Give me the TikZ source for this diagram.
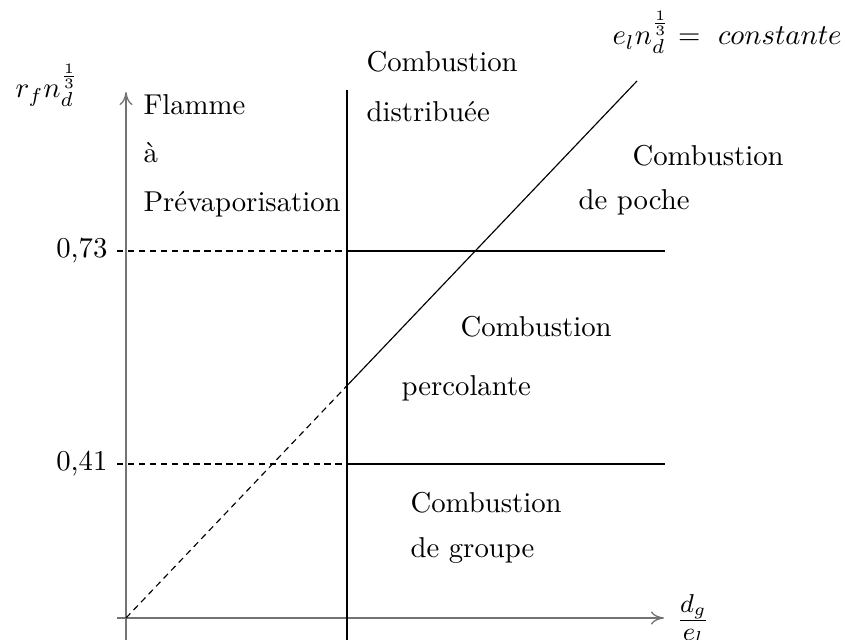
\documentclass[tikz,border=0pt]{standalone}
\usetikzlibrary{arrows.meta}
\begin{document}
\begin{tikzpicture}[x=0.348pt,y=-0.348pt,
  axis/.style={draw=black!55,line width=0.45pt,-{To[length=1.6mm,width=1.6mm]}},
  solidline/.style={draw=black,line width=0.4pt},
  dashline/.style={draw=black,line width=0.4pt,dash pattern=on 2.2pt off 1.6pt},
  lab/.style={anchor=base west,inner sep=0pt,font=\fontsize{10}{12}\selectfont}]
\useasboundingbox (0,0) rectangle (845,640);
% coordinates
\coordinate (O) at (126,618);
\coordinate (ytop) at (126,92);
\coordinate (ybot) at (126,665);
\coordinate (xl) at (117,618);
\coordinate (xr) at (664,618);
\coordinate (vtop) at (347,90);
\coordinate (vbot) at (347,665);
\coordinate (a1) at (117,251);
\coordinate (a2) at (347,251);
\coordinate (a3) at (665,251);
\coordinate (b1) at (117,464);
\coordinate (b2) at (347,464);
\coordinate (b3) at (665,464);
\coordinate (d1) at (347,385.7);
\coordinate (d2) at (637,81);
% axes
\draw[axis] (ybot) -- (ytop);
\draw[axis] (xl) -- (xr);
% lines
\draw[solidline] (vbot) -- (vtop);
\draw[dashline] (a1) -- (a2);
\draw[solidline] (a2) -- (a3);
\draw[dashline] (b1) -- (b2);
\draw[solidline] (b2) -- (b3);
\draw[dashline] (O) -- (d1);
\draw[solidline] (d1) -- (d2);
% labels
\node[lab] (ylab) at (15,98) {$r_f n_d^{\frac13}$};
\node[lab,anchor=west,font=\fontsize{13}{15}\selectfont] (xlab) at (676,619) {$\frac{d_g}{e_l}$};
\node[lab] (cst) at (612,45) {$e_l n_d^{\frac13} =\ constante$};
\node[lab,anchor=base east] (v73) at (108,258) {0,73};
\node[lab,anchor=base east] (v41) at (108,471) {0,41};
\node[lab] (t1) at (143,115) {Flamme};
\node[lab] (t2) at (143,163) {à};
\node[lab] (t3) at (143,212) {Prévaporisation};
\node[lab] (t4) at (366,72) {Combustion};
\node[lab] (t5) at (366,122) {distribuée};
\node[lab] (t6) at (632,166) {Combustion};
\node[lab] (t7) at (578,210) {de poche};
\node[lab] (t8) at (460,337) {Combustion};
\node[lab] (t9) at (401,396) {percolante};
\node[lab] (t10) at (410,513) {Combustion};
\node[lab] (t11) at (410,558) {de groupe};
\end{tikzpicture}
\end{document}
